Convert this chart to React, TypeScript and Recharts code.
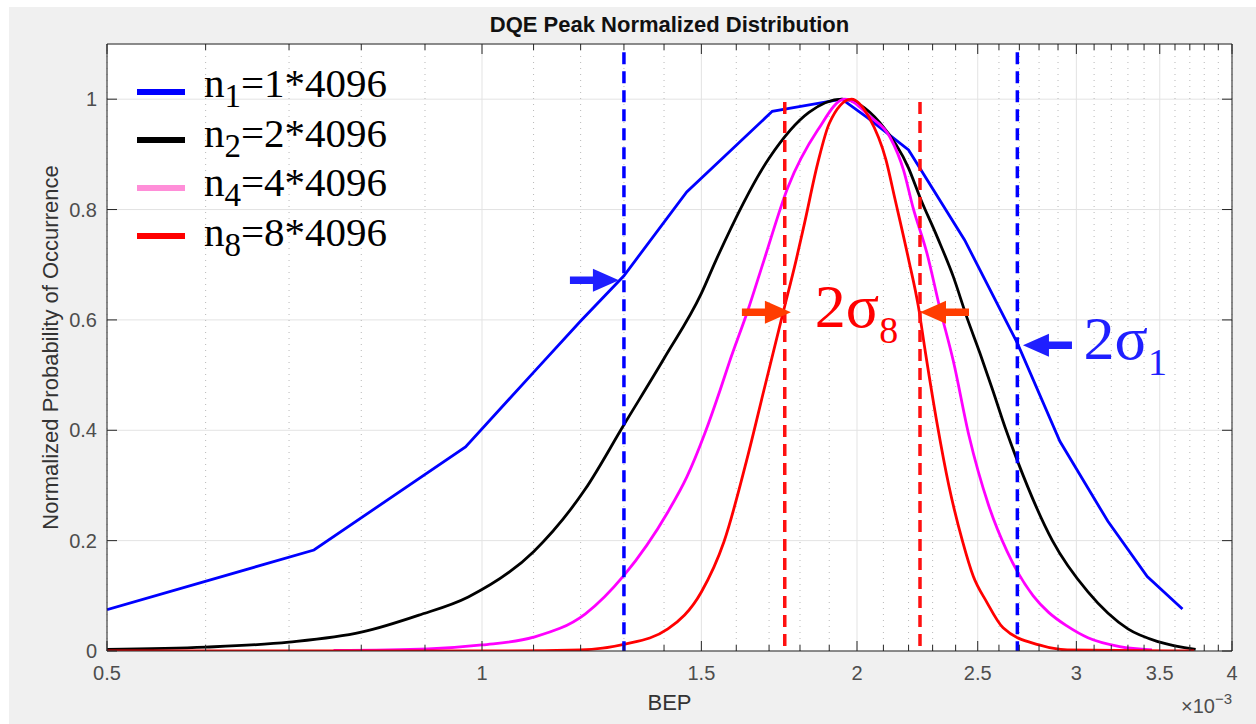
import { LineChart, Line, XAxis, YAxis, CartesianGrid, ReferenceLine, ReferenceDot } from 'recharts'

const W = 1256
const H = 724
// plot box inside the figure
const PLOT = { left: 107, right: 1232, top: 44, bottom: 651 }

const SANS = '"Liberation Sans", Arial, Helvetica, sans-serif'
const SERIF = '"Liberation Serif", "Times New Roman", serif'
const AXIS = '#262626'
const TICK_TEXT = '#4d4d4d'

// x axis ticks (BEP, x10^-3), log scale
const majorTicks = [0.5, 1, 1.5, 2, 2.5, 3, 3.5, 4]
const minorTicks = [
  0.6, 0.7, 0.8, 0.9, 1.1, 1.2, 1.3, 1.4, 1.6, 1.7, 1.8, 1.9, 2.1, 2.2, 2.3, 2.4,
  2.6, 2.7, 2.8, 2.9, 3.1, 3.2, 3.3, 3.4, 3.6, 3.7, 3.8, 3.9,
]
const allTicks = [...majorTicks, ...minorTicks].sort((a, b) => a - b)
const yTicks = [0, 0.2, 0.4, 0.6, 0.8, 1]

// n1 = 1*4096
const bepN1 = [0.5, 0.733, 0.97, 1.1, 1.2, 1.3, 1.46, 1.71, 1.945, 2.04, 2.2, 2.44, 2.69, 2.91, 3.18, 3.42, 3.65]
const probN1 = [0.075, 0.183, 0.37, 0.505, 0.598, 0.68, 0.832, 0.978, 1.0, 0.966, 0.908, 0.745, 0.558, 0.38, 0.235, 0.135, 0.076]

// n2 = 2*4096
const bepN2 = [0.5, 0.6, 0.7, 0.8, 0.89, 0.975, 1.1, 1.21, 1.3, 1.4, 1.5, 1.541, 1.7, 1.83, 1.945, 2.087, 2.2, 2.247, 2.32, 2.39, 2.45, 2.51, 2.57, 2.63, 2.69, 2.87, 3.065, 3.3, 3.5, 3.74]
const probN2 = [0.003, 0.007, 0.016, 0.034, 0.065, 0.098, 0.18, 0.293, 0.41, 0.53, 0.648, 0.708, 0.893, 0.976, 1.0, 0.957, 0.875, 0.822, 0.75, 0.678, 0.605, 0.54, 0.473, 0.405, 0.345, 0.2, 0.107, 0.04, 0.016, 0.003]

// n4 = 4*4096
const bepN4 = [0.76, 0.905, 1.0, 1.1, 1.21, 1.3, 1.41, 1.46, 1.51, 1.553, 1.58, 1.635, 1.684, 1.76, 1.86, 1.955, 2.05, 2.126, 2.18, 2.218, 2.276, 2.33, 2.39, 2.46, 2.55, 2.64, 2.77, 2.85, 2.95, 3.065, 3.25, 3.45]
const probN4 = [0.001, 0.004, 0.011, 0.025, 0.067, 0.137, 0.252, 0.315, 0.395, 0.473, 0.524, 0.618, 0.708, 0.84, 0.944, 1.0, 0.968, 0.931, 0.871, 0.804, 0.721, 0.623, 0.525, 0.39, 0.265, 0.18, 0.1, 0.07, 0.045, 0.024, 0.008, 0.002]

// n8 = 8*4096
const bepN8 = [0.5, 1.0, 1.2, 1.3, 1.41, 1.5, 1.564, 1.635, 1.684, 1.745, 1.787, 1.815, 1.86, 1.9, 1.98, 2.045, 2.11, 2.145, 2.2, 2.24, 2.27, 2.32, 2.37, 2.43, 2.48, 2.54, 2.62, 2.8, 2.95, 3.73]
const probN8 = [0.0, 0.0, 0.002, 0.012, 0.04, 0.107, 0.198, 0.355, 0.473, 0.614, 0.708, 0.775, 0.884, 0.956, 1.0, 0.967, 0.89, 0.82, 0.71, 0.625, 0.54, 0.41, 0.3, 0.2, 0.135, 0.09, 0.042, 0.011, 0.002, 0.0]

// sigma markers
const sigma1 = [1.3, 2.69]
const sigma8 = [1.75, 2.247]

// arrow tips: [bep, prob, direction]
const arrowBep = [1.288, 1.77, 2.247, 2.718]
const arrowProb = [0.672, 0.614, 0.614, 0.554]
const arrowDir = [1, 1, -1, -1]
const arrowColor = ['#1f1fff', '#ff3d00', '#ff3d00', '#1f1fff']

const zip = (xs: number[], ys: number[]) => xs.map((bep, i) => ({ bep, prob: ys[i] }))

const series = [
  { key: 'n1', data: zip(bepN1, probN1), color: '#0000ff', legend: '#0000ff', sub: '1', text: '=1*4096', curve: 'linear' },
  { key: 'n2', data: zip(bepN2, probN2), color: '#000000', legend: '#000000', sub: '2', text: '=2*4096', curve: 'monotone' },
  { key: 'n4', data: zip(bepN4, probN4), color: '#ff00ff', legend: '#ff8ed8', sub: '4', text: '=4*4096', curve: 'monotone' },
  { key: 'n8', data: zip(bepN8, probN8), color: '#ff0000', legend: '#ff0000', sub: '8', text: '=8*4096', curve: 'monotone' },
]

const isMajor = (v: number) => majorTicks.includes(v)

const BottomTick = (p: any) => {
  const { x, y, payload } = p
  const major = isMajor(payload.value)
  return (
    <g>
      <line x1={x} x2={x} y1={y} y2={y - (major ? 10 : 6)} stroke={AXIS} />
      {major && (
        <text x={x} y={y + 29} textAnchor="middle" fontFamily={SANS} fontSize={20} fill={TICK_TEXT}>
          {String(payload.value)}
        </text>
      )}
    </g>
  )
}

const TopTick = (p: any) => {
  const { x, y, payload } = p
  return <line x1={x} x2={x} y1={y} y2={y + (isMajor(payload.value) ? 10 : 6)} stroke={AXIS} />
}

const LeftTick = (p: any) => {
  const { x, y, payload } = p
  return (
    <g>
      <line x1={x} x2={x + 10} y1={y} y2={y} stroke={AXIS} />
      <text x={x - 10} y={y + 7} textAnchor="end" fontFamily={SANS} fontSize={20} fill={TICK_TEXT}>
        {String(payload.value)}
      </text>
    </g>
  )
}

const RightTick = (p: any) => {
  const { x, y } = p
  return <line x1={x} x2={x - 10} y1={y} y2={y} stroke={AXIS} />
}

const arrowShape = (dir: number, color: string) => (p: any) => {
  const { cx, cy } = p
  const len = 49
  const head = 26
  const half = 11.5
  const shaft = 7.5
  const tail = cx - dir * len
  const neck = cx - dir * head
  const pts = [
    [tail, cy - shaft / 2],
    [neck, cy - shaft / 2],
    [neck, cy - half],
    [cx, cy],
    [neck, cy + half],
    [neck, cy + shaft / 2],
    [tail, cy + shaft / 2],
  ]
  return <polygon points={pts.map((q) => q.join(',')).join(' ')} fill={color} />
}

const sigmaLabel = (sub: string, color: string) => (p: any) => (
  <text x={p.cx} y={p.cy} fontFamily={SERIF} fontSize={62} fill={color}>
    2σ
    <tspan fontSize={38} dy={16}>
      {sub}
    </tspan>
  </text>
)

const xAxisCommon = {
  type: 'number' as const,
  scale: 'log' as const,
  domain: [0.5, 4],
  allowDataOverflow: true,
  dataKey: 'bep',
  interval: 0 as const,
  tickSize: 0,
  tickMargin: 0,
  tickLine: false,
}

const yAxisCommon = {
  type: 'number' as const,
  domain: [0, 1.1],
  allowDataOverflow: true,
  ticks: yTicks,
  interval: 0 as const,
  tickSize: 0,
  tickMargin: 0,
  tickLine: false,
}

export default function App() {
  return (
    <div style={{ position: 'absolute', left: 0, top: 0, width: W, height: H, background: '#fff', overflow: 'hidden' }}>
      <div style={{ position: 'absolute', left: 9, top: 7, right: 0, bottom: 0, background: '#f0f0f0' }} />
      <div style={{ position: 'absolute', left: 0, top: 0 }}>
        <LineChart
          width={W}
          height={H}
          margin={{ top: PLOT.top - 1, right: W - PLOT.right - 1, bottom: H - PLOT.bottom - 30, left: PLOT.left - 60 }}
        >
          <XAxis xAxisId="bottom" {...xAxisCommon} ticks={allTicks} tick={<BottomTick />} axisLine={{ stroke: AXIS }} height={30} />
          <XAxis xAxisId="top" orientation="top" {...xAxisCommon} ticks={allTicks} tick={<TopTick />} axisLine={{ stroke: AXIS }} height={1} />
          <XAxis xAxisId="majorGrid" {...xAxisCommon} ticks={majorTicks} hide />
          <XAxis xAxisId="minorGrid" {...xAxisCommon} ticks={minorTicks} hide />
          <YAxis yAxisId="left" {...yAxisCommon} tick={<LeftTick />} axisLine={{ stroke: AXIS }} width={60} />
          <YAxis yAxisId="right" orientation="right" {...yAxisCommon} tick={<RightTick />} axisLine={{ stroke: AXIS }} width={1} />

          <CartesianGrid xAxisId="majorGrid" yAxisId="left" stroke="#e3e3e3" fill="#ffffff" fillOpacity={1} />
          <CartesianGrid xAxisId="minorGrid" yAxisId="left" horizontal={false} stroke="#b8b8b8" strokeDasharray="1 5" />

          {series.map((s) => (
            <Line
              key={s.key}
              xAxisId="bottom"
              yAxisId="left"
              data={s.data}
              dataKey="prob"
              type={s.curve as any}
              stroke={s.color}
              strokeWidth={2.8}
              dot={false}
              activeDot={false}
              isAnimationActive={false}
            />
          ))}

          {sigma1.map((v) => (
            <ReferenceLine
              key={'s1' + v}
              xAxisId="bottom"
              yAxisId="left"
              segment={[{ x: v, y: 1.085 }, { x: v, y: 0 }]}
              stroke="#0000ff"
              strokeWidth={3.5}
              strokeDasharray="12 7"
            />
          ))}
          {sigma8.map((v) => (
            <ReferenceLine
              key={'s8' + v}
              xAxisId="bottom"
              yAxisId="left"
              segment={[{ x: v, y: 0.995 }, { x: v, y: 0 }]}
              stroke="#ff1010"
              strokeWidth={3.5}
              strokeDasharray="12 7"
            />
          ))}

          {arrowBep.map((v, i) => (
            <ReferenceDot
              key={'a' + i}
              xAxisId="bottom"
              yAxisId="left"
              x={v}
              y={arrowProb[i]}
              ifOverflow="visible"
              shape={arrowShape(arrowDir[i], arrowColor[i])}
            />
          ))}
          <ReferenceDot xAxisId="bottom" yAxisId="left" x={1.85} y={0.587} ifOverflow="visible" shape={sigmaLabel('8', '#ff0000')} />
          <ReferenceDot xAxisId="bottom" yAxisId="left" x={3.04} y={0.529} ifOverflow="visible" shape={sigmaLabel('1', '#1f1fff')} />
        </LineChart>
      </div>

      <svg width={W} height={H} style={{ position: 'absolute', left: 0, top: 0, pointerEvents: 'none' }}>
        <text x={(PLOT.left + PLOT.right) / 2} y={32} textAnchor="middle" fontFamily={SANS} fontWeight="bold" fontSize={22} fill="#111">
          DQE Peak Normalized Distribution
        </text>
        <text
          transform={`translate(58, ${(PLOT.top + PLOT.bottom) / 2}) rotate(-90)`}
          textAnchor="middle"
          fontFamily={SANS}
          fontSize={22}
          fill="#333"
        >
          Normalized Probability of Occurrence
        </text>
        <text x={(PLOT.left + PLOT.right) / 2} y={710} textAnchor="middle" fontFamily={SANS} fontSize={22} fill="#333">
          BEP
        </text>
        <text x={PLOT.right} y={713} textAnchor="end" fontFamily={SANS} fontSize={20} fill={TICK_TEXT}>
          ×10
          <tspan fontSize={15} dy={-9}>
            −3
          </tspan>
        </text>

        {series.map((s, i) => (
          <g key={s.key}>
            <line x1={137} x2={185} y1={92 + 48 * i} y2={92 + 48 * i} stroke={s.legend} strokeWidth={6} />
            <text x={204} y={97 + 49.5 * i} fontFamily={SERIF} fontSize={41} fill="#000">
              n
              <tspan fontSize={33} dy={10}>
                {s.sub}
              </tspan>
              <tspan dy={-10}>{s.text}</tspan>
            </text>
          </g>
        ))}
      </svg>
    </div>
  )
}
